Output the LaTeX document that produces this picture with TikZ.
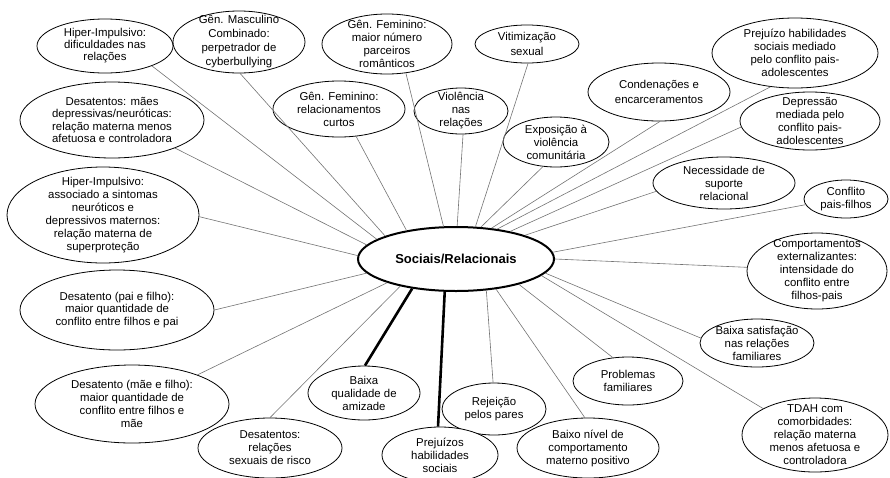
\documentclass[tikz,border=0pt]{standalone}
\usepackage{fontspec}
\setmainfont{Liberation Sans}
\usetikzlibrary{shapes.geometric}
\tikzset{
  el/.style={draw, ellipse, inner sep=0pt, line width=0.8pt, fill=white},
  lab/.style={align=center, inner sep=0pt, font=\fontsize{11.4}{13}\selectfont},
  lab2/.style={align=center, inner sep=0pt, font=\fontsize{11.4}{14.5}\selectfont},
  lk/.style={draw=black!55, line width=0.6pt},
  tk/.style={draw=black, line width=2.6pt},
}
\begin{document}
\begin{tikzpicture}[x=1pt,y=-1pt]
\useasboundingbox (0,0) rectangle (890,477);
\clip (0,0) rectangle (890,477);
\node[el, line width=2pt, minimum width=196pt, minimum height=64pt, font=\fontsize{13}{15}\selectfont\bfseries] (c) at (456,259) {Sociais/Relacionais};

\node[el, minimum width=136pt, minimum height=54pt, label={[lab, font=\fontsize{11.4}{12}\selectfont]center:{Hiper-Impulsivo:\\dificuldades nas\\relações}}] (n1) at (105,46) {};
\node[el, minimum width=132pt, minimum height=62pt, label={[lab, font=\fontsize{11.4}{14}\selectfont]center:{Gên. Masculino\\Combinado:\\perpetrador de\\cyberbullying}}] (n2) at (239,42) {};
\node[el, minimum width=130pt, minimum height=60pt, label={[lab]center:{Gên. Feminino:\\maior número\\parceiros\\românticos}}] (n3) at (387,44) {};
\node[el, minimum width=104pt, minimum height=38pt, label={[lab2]center:{Vitimização\\sexual}}] (n4) at (527,44) {};
\node[el, minimum width=132pt, minimum height=56pt, label={[lab]center:{Gên. Feminino:\\relacionamentos\\curtos}}] (n5) at (339,109) {};
\node[el, minimum width=94pt, minimum height=46pt, label={[lab]center:{Violência\\nas\\relações}}] (n6) at (461,111) {};
\node[el, minimum width=106pt, minimum height=50pt, label={[lab]center:{Exposição à\\violência\\comunitária}}] (n7) at (556,142) {};
\node[el, minimum width=142pt, minimum height=58pt, label={[lab2]center:{Condenações e\\encarceramentos}}] (n8) at (659,92) {};
\node[el, minimum width=166pt, minimum height=70pt, label={[lab]center:{Prejuízo habilidades\\sociais mediado\\pelo conflito pais-\\adolescentes}}] (n9) at (795,53) {};
\node[el, minimum width=140pt, minimum height=58pt, label={[lab]center:{Depressão\\mediada pelo\\conflito pais-\\adolescentes}}] (n10) at (810,121) {};
\node[el, minimum width=142pt, minimum height=52pt, label={[lab]center:{Necessidade de\\suporte\\relacional}}] (n11) at (724,183) {};
\node[el, minimum width=84pt, minimum height=38pt, label={[lab]center:{Conflito\\pais-filhos}}] (n12) at (846,199) {};
\node[el, minimum width=140pt, minimum height=76pt, label={[lab]center:{Comportamentos\\externalizantes:\\intensidade do\\conflito entre\\filhos-pais}}] (n13) at (817,271) {};
\node[el, minimum width=114pt, minimum height=48pt, label={[lab]center:{Baixa satisfação\\nas relações\\familiares}}] (n14) at (757,343) {};
\node[el, minimum width=146pt, minimum height=74pt, label={[lab]center:{TDAH com\\comorbidades:\\relação materna\\menos afetuosa e\\controladora}}] (n15) at (815,435) {};
\node[el, minimum width=110pt, minimum height=48pt, label={[lab]center:{Problemas\\familiares}}] (n16) at (628,381) {};
\node[el, minimum width=142pt, minimum height=60pt, label={[lab]center:{Baixo nível de\\comportamento\\materno positivo}}] (n17) at (588,448) {};
\node[el, minimum width=104pt, minimum height=52pt, label={[lab]center:{Rejeição\\pelos pares}}] (n18) at (494,409) {};
\node[el, minimum width=116pt, minimum height=56pt, label={[lab]center:{Prejuízos\\habilidades\\sociais}}] (n19) at (440,455) {};
\node[el, minimum width=112pt, minimum height=54pt, label={[lab]center:{Baixa\\qualidade de\\amizade}}] (n20) at (364,393) {};
\node[el, minimum width=144pt, minimum height=60pt, label={[lab]center:{Desatentos:\\relações\\sexuais de risco}}] (n21) at (270,448) {};
\node[el, minimum width=194pt, minimum height=78pt, label={[lab]center:{Desatento (mãe e filho):\\maior quantidade de\\conflito entre filhos e\\mãe}}] (n22) at (132,404) {};
\node[el, minimum width=194pt, minimum height=80pt, label={[lab, font=\fontsize{11.4}{12.5}\selectfont]center:{Desatento (pai e filho):\\maior quantidade de\\conflito entre filhos e pai}}] (n23) at (117,310) {};
\node[el, minimum width=192pt, minimum height=96pt, label={[lab]center:{Hiper-Impulsivo:\\associado a sintomas\\neuróticos e\\depressivos maternos:\\relação materna de\\superproteção}}] (n24) at (103,215) {};
\node[el, minimum width=184pt, minimum height=76pt, label={[lab, font=\fontsize{11.4}{12.5}\selectfont]center:{Desatentos: mães\\depressivas/neuróticas:\\relação materna menos\\afetuosa e controladora}}] (n25) at (112,120) {};

\draw[lk] (c.166.3) -- (n1.-23.7);
\draw[lk] (c.162) -- (n2.-88);
\draw[lk] (c.111.5) -- (n3.-57);
\draw[lk] (c.59) -- (n4.-87);
\draw[lk] (c.150.5) -- (n5.-58.5);
\draw[lk] (c.88) -- (n6.-85);
\draw[lk] (c.52) -- (n7.-118);
\draw[lk] (c.41) -- (n8.-88);
\draw[lk] (c.36) -- (n9.-126);
\draw[lk] (c.27.4) -- (n10.-175);
\draw[lk] (c.19.9) -- (n11.-173);
\draw[lk] (c.4.8) -- (n12.-172);
\draw[lk] (c.0.6) -- (n13.177.5);
\draw[lk] (c.-9) -- (n14.175);
\draw[lk] (c.-11.9) -- (n15.153.4);
\draw[lk] (c.-22.7) -- (n16.123.7);
\draw[lk] (c.-37) -- (n17.96);
\draw[lk] (c.-46) -- (n18.92);
\draw[tk] (c.-109) -- (n19.94);
\draw[tk] (c.-146) -- (n20.88);
\draw[lk] (c.-154.6) -- (n21.90);
\draw[lk] (c.-161.3) -- (n22.24.5);
\draw[lk] (c.-171.9) -- (n23.0);
\draw[lk] (c.178.2) -- (n24.-1.3);
\draw[lk] (c.171.3) -- (n25.-24.3);
\end{tikzpicture}
\end{document}
